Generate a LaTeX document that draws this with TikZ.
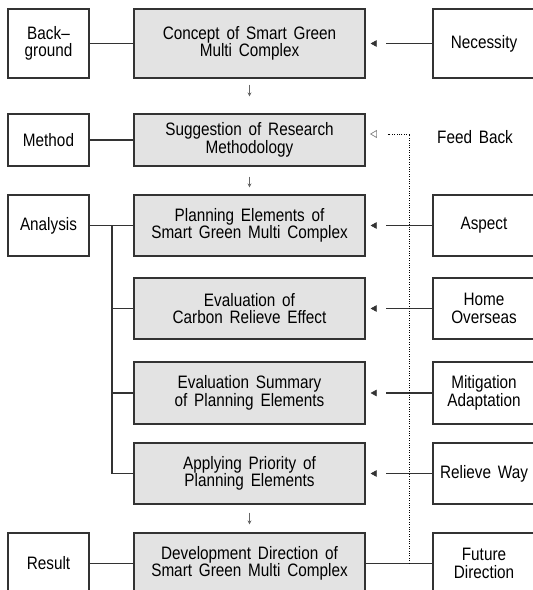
\documentclass[tikz,border=0pt]{standalone}
\usepackage{fontspec}
\setmainfont{Liberation Sans}[FakeStretch=0.85,WordSpace=1.6]
\usetikzlibrary{arrows.meta,calc}
\definecolor{boxgray}{HTML}{E3E3E3}
\definecolor{linegray}{HTML}{333333}
\begin{document}
\begin{tikzpicture}[x=1pt,y=-1pt,
  base/.style={draw=linegray, line width=1.2pt, align=center, inner sep=0pt,
    font=\fontsize{18}{17.5}\selectfont},
  lbox/.style={base, fill=white, minimum width=81pt},
  cbox/.style={base, fill=boxgray, minimum width=231pt},
  rbox/.style={base, fill=white, minimum width=102pt},
  link/.style={draw=linegray, line width=1.2pt},
  feed/.style={link, dash pattern=on 46pt off 40pt,
    -{Triangle[length=6pt,width=6.5pt,line width=0.5pt]}, shorten >=5pt},
  down/.style={draw=black!60, line width=0.9pt, -{Stealth[length=4pt,width=4pt]}},
  dots/.style={draw=black, line width=0.9pt, dash pattern=on 1pt off 1.4pt},
  label/.style={inner sep=0pt, font=\fontsize{18}{17.5}\selectfont}
]
\useasboundingbox (0,0) rectangle (533,590);
\clip (0,0) rectangle (533,590);

% center column
\node[cbox, minimum height=69pt] (con) at (249.5,43.5) {Concept of Smart Green\\Multi Complex};
\node[cbox, minimum height=52pt] (sug) at (249.5,140) {Suggestion of Research\\Methodology};
\node[cbox, minimum height=61pt] (pla) at (249.5,225.5) {Planning Elements of\\Smart Green Multi Complex};
\node[cbox, minimum height=61pt] (car) at (249.5,308.5) {Evaluation of\\Carbon Relieve Effect};
\node[cbox, minimum height=62pt] (sum) at (249.5,393) {Evaluation Summary\\of Planning Elements};
\node[cbox, minimum height=61pt] (app) at (249.5,473.5) {Applying Priority of\\Planning Elements};
\node[cbox, minimum height=61pt] (dev) at (249.5,563.5) {Development Direction of\\Smart Green Multi Complex};

% left column
\node[lbox, minimum height=69pt] (bg) at (48.5,43.5) {Back–\\ground};
\node[lbox, minimum height=52pt] (met) at (48.5,140) {Method};
\node[lbox, minimum height=61pt] (ana) at (48.5,225.5) {Analysis};
\node[lbox, minimum height=61pt] (res) at (48.5,563.5) {Result};

% right column
\node[rbox, minimum height=69pt] (nec) at (484,43.5) {Necessity};
\node[label] (fbk) at (475,137) {Feed Back};
\node[rbox, minimum height=61pt] (asp) at (484,225.5) {Aspect};
\node[rbox, minimum height=61pt] (hom) at (484,308.5) {Home\\Overseas};
\node[rbox, minimum height=62pt] (mit) at (484,393) {Mitigation\\Adaptation};
\node[rbox, minimum height=61pt] (rel) at (484,473.5) {Relieve Way};
\node[rbox, minimum height=61pt] (fut) at (484,563.5) {Future\\Direction};

% left connectors
\draw[link] (bg) -- (con);
\draw[link] (met) -- (sug);
\draw[link] (ana) -- (pla);
\draw[link] (res) -- (dev);
\coordinate (br) at ($(ana.east)!0.51!(pla.west)$);
\draw[link] (br) |- (car.west);
\draw[link] (br) |- (sum.west);
\draw[link] (br) |- (app.west);

% right connectors
\draw[feed] (nec.west) -- (con.east);
\draw[feed] (asp.west) -- (pla.east);
\draw[feed] (hom.west) -- (car.east);
\draw[feed] (mit.west) -- (sum.east);
\draw[feed] (rel.west) -- (app.east);
\draw[link] (dev.east) -- (fut.west);

% feedback
\coordinate (fb) at ($(dev.east)!0.66!(fut.west)$);
\draw[dots] (fb) |- ($(sug.east)+(22,-6)$);
\draw[draw=gray, line width=0.7pt] ($(sug.east)+(5,-6)$) -- ++(6,-3.5) -- ++(0,7) -- cycle;

% down arrows
\draw[down] ($(con.south)+(0,6)$) -- ($(sug.north)+(0,-17)$);
\draw[down] ($(sug.south)+(0,10)$) -- ($(pla.north)+(0,-7)$);
\draw[down] ($(app.south)+(0,8)$) -- ($(dev.north)+(0,-8)$);
\end{tikzpicture}
\end{document}
